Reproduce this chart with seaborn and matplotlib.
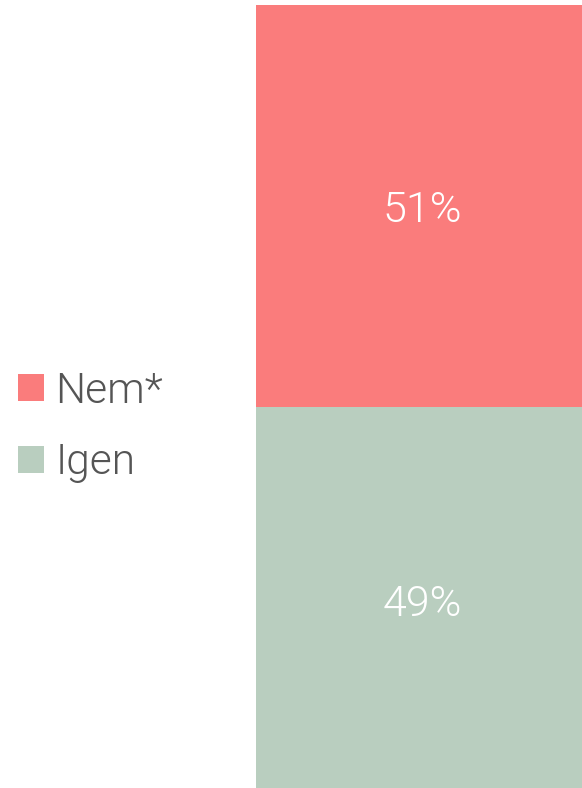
import matplotlib
matplotlib.use("Agg")
import matplotlib.pyplot as plt
from matplotlib.patches import Patch
import seaborn as sns
import pandas as pd

# adatok
categories = ["Nem*", "Igen"]
values = [51, 49]
colors = ["#FA7C7C", "#B9CEBF"]

sns.set_theme(style="white")
plt.rcParams['font.family'] = ['Roboto', 'DejaVu Sans']

fig = plt.figure(figsize=(5.82, 7.88), dpi=100)
ax = fig.add_axes([256 / 582, -5 / 788, (588 - 256) / 582, 788 / 788])

df = pd.DataFrame({"x": [0], "total": [sum(values)], "igen": [values[1]]})
# stacked: teljes oszlop pirosban, alsó rész zölddel
sns.barplot(data=df, x="x", y="total", color=colors[0], width=1.0, saturation=1, ax=ax, linewidth=0)
sns.barplot(data=df, x="x", y="igen", color=colors[1], width=1.0, saturation=1, ax=ax, linewidth=0)

ax.set_xlim(-0.5, 0.5)
ax.set_ylim(0, 100)
ax.axis("off")

# feliratok (Roboto Light = 300)
for y, v in [(values[1] + values[0] / 2, values[0]), (values[1] / 2, values[1])]:
    ax.annotate(f"{v}%", (0, y), xytext=(0, -3.6), textcoords="offset points",
                ha="center", va="center", color="white", fontsize=31, fontweight=300)

handles = [Patch(facecolor=c, edgecolor="none") for c in colors]
leg = fig.legend(handles, categories, loc="center left", bbox_to_anchor=(18 / 582, 1 - 427 / 788),
                 frameon=False, fontsize=30.5, handlelength=0.61, handleheight=0.61,
                 handletextpad=0.27, labelspacing=0.72, borderpad=0, borderaxespad=0)
for t in leg.get_texts():
    t.set_color("#555555")
    t.set_fontweight(300)

fig.savefig("out.png", dpi=100)
